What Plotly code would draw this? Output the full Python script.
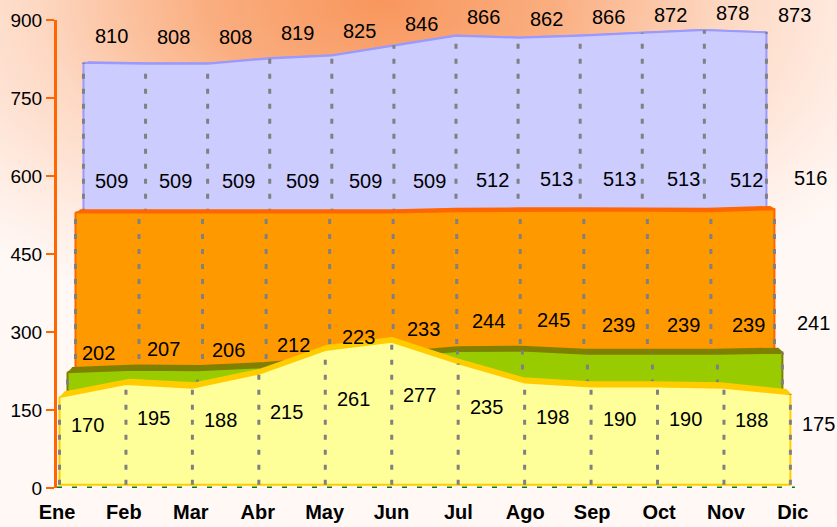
import base64
import plotly.graph_objects as go

# ---------------- data ----------------
meses = ["Ene", "Feb", "Mar", "Abr", "May", "Jun", "Jul", "Ago", "Sep", "Oct", "Nov", "Dic"]
serie_amarilla = [170, 195, 188, 215, 261, 277, 235, 198, 190, 190, 188, 175]
serie_verde = [202, 207, 206, 212, 223, 233, 244, 245, 239, 239, 239, 241]
serie_naranja = [509, 509, 509, 509, 509, 509, 512, 513, 513, 513, 512, 516]
serie_morada = [810, 808, 808, 819, 825, 846, 866, 862, 866, 872, 878, 873]
y_ticks = [0, 150, 300, 450, 600, 750, 900]

# ---------------- pseudo-3D perspective ----------------
W, H = 837, 527
ML, MR, MT, MB = 57, 0, 20, 39
CAT_PX = 66.9
X_MAX = (W - ML - MR) / CAT_PX
Y_MAX = 900
PX_PER_UNIT = (H - MT - MB) / Y_MAX
VX = (len(meses) - 1) / 2.0          # vanishing point (category units)
VY = 919.0                           # vanishing point (value units)
S0, DS = 0.9932, 0.0217              # scale of the front series and depth step
BAND = 0.012                         # thickness of each slab (scale units)


def px(i, s):
    return VX + (i - VX) * s


def py(v, s):
    return VY + (v - VY) * s


# back to front: (values, face colour, edge/top colour, depth, label dx px, label placement a, b)
series = [
    (serie_morada, "#CCCCFF", "#9999FF", 3, 28, 0.70, 298),
    (serie_naranja, "#FF9900", "#FF6600", 2, 36, 1.00, 64),
    (serie_verde, "#99CC00", "#7F8000", 1, 31, 1.50, -62),
    (serie_amarilla, "#FFFF99", "#FFCC00", 0, 28, 0.55, 22),
]

fig = go.Figure()
annotations = []
n = len(meses)
idx = list(range(n))

for vals, face, edge, depth, ldx, la, lb in series:
    s = S0 - DS * depth
    sb = s - BAND
    # top face (slab thickness)
    bx = [px(i, s) for i in idx] + [px(i, sb) for i in reversed(idx)]
    by = [py(v, s) for v in vals] + [py(v, sb) for v in reversed(vals)]
    fig.add_trace(go.Scatter(x=bx, y=by, fill="toself", fillcolor=edge, mode="lines",
                             line=dict(color=edge, width=1.5), hoverinfo="skip", showlegend=False))
    # front face
    fx = [px(i, s) for i in idx] + [px(n - 1, s), px(0, s), px(0, s)]
    fy = [py(v, s) for v in vals] + [py(0, s), py(0, s), py(vals[0], s)]
    fig.add_trace(go.Scatter(x=fx, y=fy, fill="toself", fillcolor=face, mode="lines",
                             line=dict(color=edge, width=2), hoverinfo="skip", showlegend=False))
    # dashed division lines
    gx, gy = [], []
    for i, v in zip(idx, vals):
        gx += [px(i, s), px(i, s), None]
        gy += [py(0, s), py(v, s), None]
    fig.add_trace(go.Scatter(x=gx, y=gy, mode="lines",
                             line=dict(color="#808080", width=3, dash="5px,10px"),
                             hoverinfo="skip", showlegend=False))
    # value labels (anchored on the point, shifted in pixels)
    for i, v in zip(idx, vals):
        shift = (py(la * v + lb, s) - py(v, s)) * PX_PER_UNIT
        annotations.append(dict(x=px(i, s), y=py(v, s), text=str(v), showarrow=False,
                                xshift=ldx, yshift=shift,
                                font=dict(family="Arial, Liberation Sans", size=20, color="#000000")))

# floor front edge (green dashed)
fig.add_trace(go.Scatter(x=[0, px(n - 1, 1.0) + 0.03], y=[0, 0], mode="lines",
                         line=dict(color="#008000", width=3, dash="5px,10px"),
                         hoverinfo="skip", showlegend=False, cliponaxis=False))

# background radial glow
svg = (
    "<svg xmlns='http://www.w3.org/2000/svg' width='837' height='527' viewBox='0 0 837 527' "
    "preserveAspectRatio='none'><defs>"
    "<radialGradient id='g' gradientUnits='userSpaceOnUse' cx='380' cy='0' r='580' "
    "gradientTransform='translate(380 0) scale(1 0.58) translate(-380 0)'>"
    "<stop offset='0' stop-color='#F8965C'/>"
    "<stop offset='0.3' stop-color='#FAAE80'/>"
    "<stop offset='0.6' stop-color='#FDD9C4'/>"
    "<stop offset='0.85' stop-color='#FFEEE6'/>"
    "<stop offset='1' stop-color='#FFF8F5'/>"
    "</radialGradient></defs><rect width='837' height='527' fill='url(#g)'/></svg>"
)
src = "data:image/svg+xml;base64," + base64.b64encode(svg.encode()).decode()
pw, ph = W - ML - MR, H - MT - MB

fig.update_layout(
    width=W, height=H,
    margin=dict(l=ML, r=MR, t=MT, b=MB, pad=0),
    paper_bgcolor="#FFF8F5",
    plot_bgcolor="rgba(0,0,0,0)",
    showlegend=False,
    annotations=annotations,
    images=[dict(source=src, xref="paper", yref="paper", x=-ML / pw, y=1 + MT / ph,
                 sizex=W / pw, sizey=H / ph, xanchor="left", yanchor="top",
                 sizing="stretch", layer="below")],
    xaxis=dict(range=[0, X_MAX], tickvals=idx, ticktext=meses, showgrid=False,
               zeroline=False, showline=False, ticks="outside", ticklen=6,
               tickcolor="rgba(0,0,0,0)", automargin=False,
               tickfont=dict(family="Arial, Liberation Sans", size=20, color="#000000",
                             weight="bold")),
    yaxis=dict(range=[0, Y_MAX], tickvals=y_ticks, showgrid=False, zeroline=False,
               showline=True, linecolor="#FF6600", linewidth=3, automargin=False,
               ticks="outside", ticklen=8, tickwidth=2, tickcolor="#FF6600",
               tickfont=dict(family="Arial, Liberation Sans", size=19, color="#000000")),
)

fig.write_html(
    "out.html",
    config={"displayModeBar": False},
    post_script="document.body.style.margin='0';document.body.style.padding='0';"
                "document.body.style.overflow='hidden';",
)
